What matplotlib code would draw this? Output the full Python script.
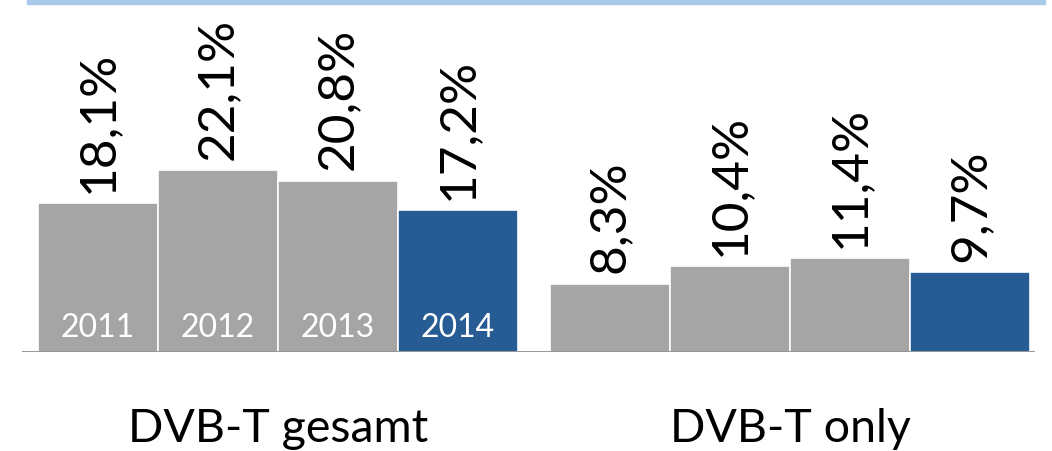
import matplotlib
matplotlib.use("Agg")
import matplotlib.pyplot as plt
from matplotlib.patches import Rectangle

groups = ["DVB-T gesamt", "DVB-T only"]
years = ["2011", "2012", "2013", "2014"]
gesamt = [18.1, 22.1, 20.8, 17.2]
only = [8.3, 10.4, 11.4, 9.7]

GREY = "#A5A5A5"
BLUE = "#265B94"
plt.rcParams['font.family'] = ['Lato', 'DejaVu Sans']

W, H = 1052, 452
fig = plt.figure(figsize=(W/100, H/100), dpi=100)
ax_l, ax_r = 22, 1035
ax_b = 99
ax = fig.add_axes([ax_l/W, ax_b/H, (ax_r-ax_l)/W, (H-ax_b)/H])

bw = 1.0
px = 120.0
offsets = [0.0, (550-38)/px]
colors = [GREY, GREY, GREY, BLUE]
for gi, vals in enumerate([gesamt, only]):
    xs = [offsets[gi] + i*bw + bw/2 for i in range(len(vals))]
    ax.bar(xs, vals, width=bw, color=colors, edgecolor="white", linewidth=1.2)
    for i, (x, v) in enumerate(zip(xs, vals)):
        lab = f"{v:.1f}%".replace(".", ",")
        ax.text(x, v + 1.4, lab, rotation=90, ha="center", va="bottom",
                fontsize=37, color="black")
        if gi == 0:
            ax.text(x, 3.0, years[i], ha="center", va="center", fontsize=23,
                    color="white")
    ax.text(offsets[gi] + 2.0, -9.2, groups[gi], ha="center", va="center",
            fontsize=33.5, color="black", clip_on=False)

ax.set_xlim(-16/px, (ax_r-ax_l-16)/px)
ax.set_ylim(0, (H-ax_b)/8.23)
ax.axis("off")
ax.axhline(0, color="#8C8C8C", linewidth=2.0, zorder=3)

fig.patches.append(Rectangle((27/W, 1-5/H), (1045-27)/W, 5/H,
                             transform=fig.transFigure, color="#A9C9EA",
                             zorder=5))
fig.savefig("out.png", dpi=100)
